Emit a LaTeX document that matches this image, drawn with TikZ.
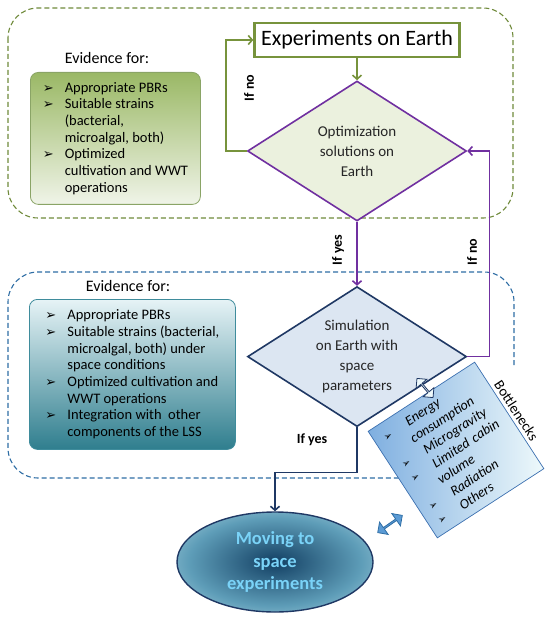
\documentclass[tikz,border=0pt]{standalone}
\usepackage{fontspec}
\setmainfont{Carlito}
\newfontfamily\symfont{DejaVu Sans}
\usepackage{tikz}
\usetikzlibrary{positioning,shapes.geometric,shapes.arrows,arrows.meta}
\definecolor{EarthGreen}{HTML}{77933C}
\definecolor{ZoneGreen}{HTML}{6F8A3A}
\definecolor{ZoneBlue}{HTML}{2E6DA4}
\definecolor{LoopPurple}{HTML}{7030A0}
\definecolor{SimNavy}{HTML}{1F3864}
\definecolor{OptFill}{HTML}{EBF1DE}
\definecolor{SimFill}{HTML}{DCE6F2}
\definecolor{EvGreenTop}{HTML}{9AB865}
\definecolor{EvGreenBot}{HTML}{F0F4E8}
\definecolor{EvGreenLine}{HTML}{8AA466}
\definecolor{EvBlueTop}{HTML}{E6F3F6}
\definecolor{EvBlueMid}{HTML}{B5DCE5}
\definecolor{EvBlueBot}{HTML}{2F7E8E}
\definecolor{EvBlueLine}{HTML}{3F8C9C}
\definecolor{NeckDark}{HTML}{7FAFE0}
\definecolor{NeckLight}{HTML}{EEF9FB}
\definecolor{NeckLine}{HTML}{3C70B0}
\definecolor{MoveDark}{HTML}{123F63}
\definecolor{MoveMid}{HTML}{5E9DB8}
\definecolor{MoveLight}{HTML}{D3EEF4}
\definecolor{MoveText}{HTML}{7AD3F8}
\definecolor{PushBlue}{HTML}{5B9BD5}
\pgfdeclareradialshading{moveshade}{\pgfpointorigin}{color(0bp)=(MoveDark); color(22bp)=(MoveMid); color(42bp)=(MoveLight); color(50bp)=(MoveLight)}
\newcommand{\bul}[1][13]{\makebox[22pt][l]{\symfont\fontsize{#1}{#1}\selectfont ➢}}
\newcommand{\cont}{\hspace*{22pt}}

\begin{document}
\begin{tikzpicture}[x=1pt, y=-1pt, >={Straight Barb[length=4pt,width=9pt]}, every node/.style={font=\fontsize{14.5}{16.7}\selectfont}, zone/.style={dash pattern=on 5pt off 3pt, line width=1.1pt, rounded corners=30pt}, evbox/.style={rounded corners=8pt, draw, line width=0.8pt, align=left, anchor=north west}, title/.style={font=\fontsize{16}{19}\selectfont}, dia/.style={diamond, draw, line width=1.6pt, shape aspect=1.56, inner sep=0pt, minimum width=219pt, minimum height=140pt, align=center, text=black!85, font=\fontsize{15}{20}\selectfont}, lbl/.style={font=\bfseries\fontsize{14}{16}\selectfont}, arr/.style={->, line width=1.6pt}, push/.style={double arrow, draw, line width=0.8pt, inner sep=0pt, double arrow head extend=3pt}]
\useasboundingbox (0,0) rectangle (550,617);
% dashed zones
\draw[zone, ZoneGreen] (8,8) rectangle (513,218);
\draw[zone, ZoneBlue] (514,365) |- (8,272) |- (400,478);
% evidence boxes
\node[title] (gtitle) at (107,58) {Evidence for:};
\node[evbox, draw=EvGreenLine, top color=EvGreenTop, bottom color=EvGreenBot, minimum width=170pt, minimum height=132pt] (evgreen) at (30,72) {\bul Appropriate PBRs\\ \bul Suitable strains\\ \cont(bacterial,\\ \cont microalgal, both)\\ \bul Optimized\\ \cont cultivation and WWT\\ \cont operations};
\node[title] (btitle) at (128,286) {Evidence for:};
\node[evbox, draw=EvBlueLine, top color=EvBlueTop, middle color=EvBlueMid, bottom color=EvBlueBot, minimum width=206pt, minimum height=150pt] (evblue) at (29,299) {\bul Appropriate PBRs\\ \bul Suitable strains (bacterial,\\ \cont microalgal, both) under\\ \cont space conditions\\ \bul Optimized cultivation and\\ \cont WWT operations\\ \bul Integration with\ \ other\\ \cont components of the LSS};
% flow
\node[draw=EarthGreen, line width=2.4pt, fill=white, minimum width=205pt, minimum height=34pt, font=\fontsize{22}{26}\selectfont] (exp) at (357,40) {Experiments on Earth};
\node[dia, draw=LoopPurple, fill=OptFill, below=22pt of exp] (opt) {Optimization\\solutions on\\Earth};
\node[dia, draw=SimNavy, fill=SimFill, below=64pt of opt] (sim) {Simulation\\on Earth with\\space\\parameters};
\node[ellipse, draw=SimNavy, line width=1.4pt, shade, shading=moveshade, minimum width=196pt, minimum height=100pt, align=center, text=MoveText, font=\bfseries\fontsize{18.5}{22.5}\selectfont] (move) at (275,562) {Moving to\\space\\experiments};
\draw[arr, EarthGreen] (exp.south) -- (opt.north);
\draw[arr, EarthGreen] (opt.west) -- ++(-21,0) |- (exp.west);
\draw[arr, LoopPurple] (opt.south) -- (sim.north);
\draw[arr, LoopPurple] (sim.east) -- ++(22,0) |- (opt.east);
\draw[arr, SimNavy] (sim.south) -- ++(0,45) -| (move.north);
\node[lbl, rotate=90] (noleft) at (249,88) {If no};
\node[lbl, rotate=90] (yesmid) at (338,250) {If yes};
\node[lbl, rotate=90] (noright) at (472,252) {If no};
\node[lbl] (yesdown) at (312,440) {If yes};
% bottlenecks
\node[rotate=33, draw=NeckLine, line width=0.7pt, left color=NeckDark, right color=NeckLight, minimum size=127pt, inner xsep=10pt, text width=107pt, align=left, font=\itshape\fontsize{14}{16.6}\selectfont] (bneck) at (456,450) {\bul[10] Energy\\ \cont consumption\\ \bul[10] Microgravity\\ \bul[10] Limited cabin\\ \cont volume\\ \bul[10] Radiation\\ \bul[10] Others};
\node[rotate=-57, anchor=south, inner sep=3pt] (btext) at (bneck.east) {Bottlenecks};
\node[push, draw=SimNavy, fill=NeckLight, rotate=-50, minimum height=25pt, minimum width=14pt] (pushup) at (425,388) {};
\node[push, draw=ZoneBlue, fill=PushBlue, rotate=35, minimum height=30pt, minimum width=15pt] (pushdown) at (390,524) {};
\end{tikzpicture}
\end{document}
